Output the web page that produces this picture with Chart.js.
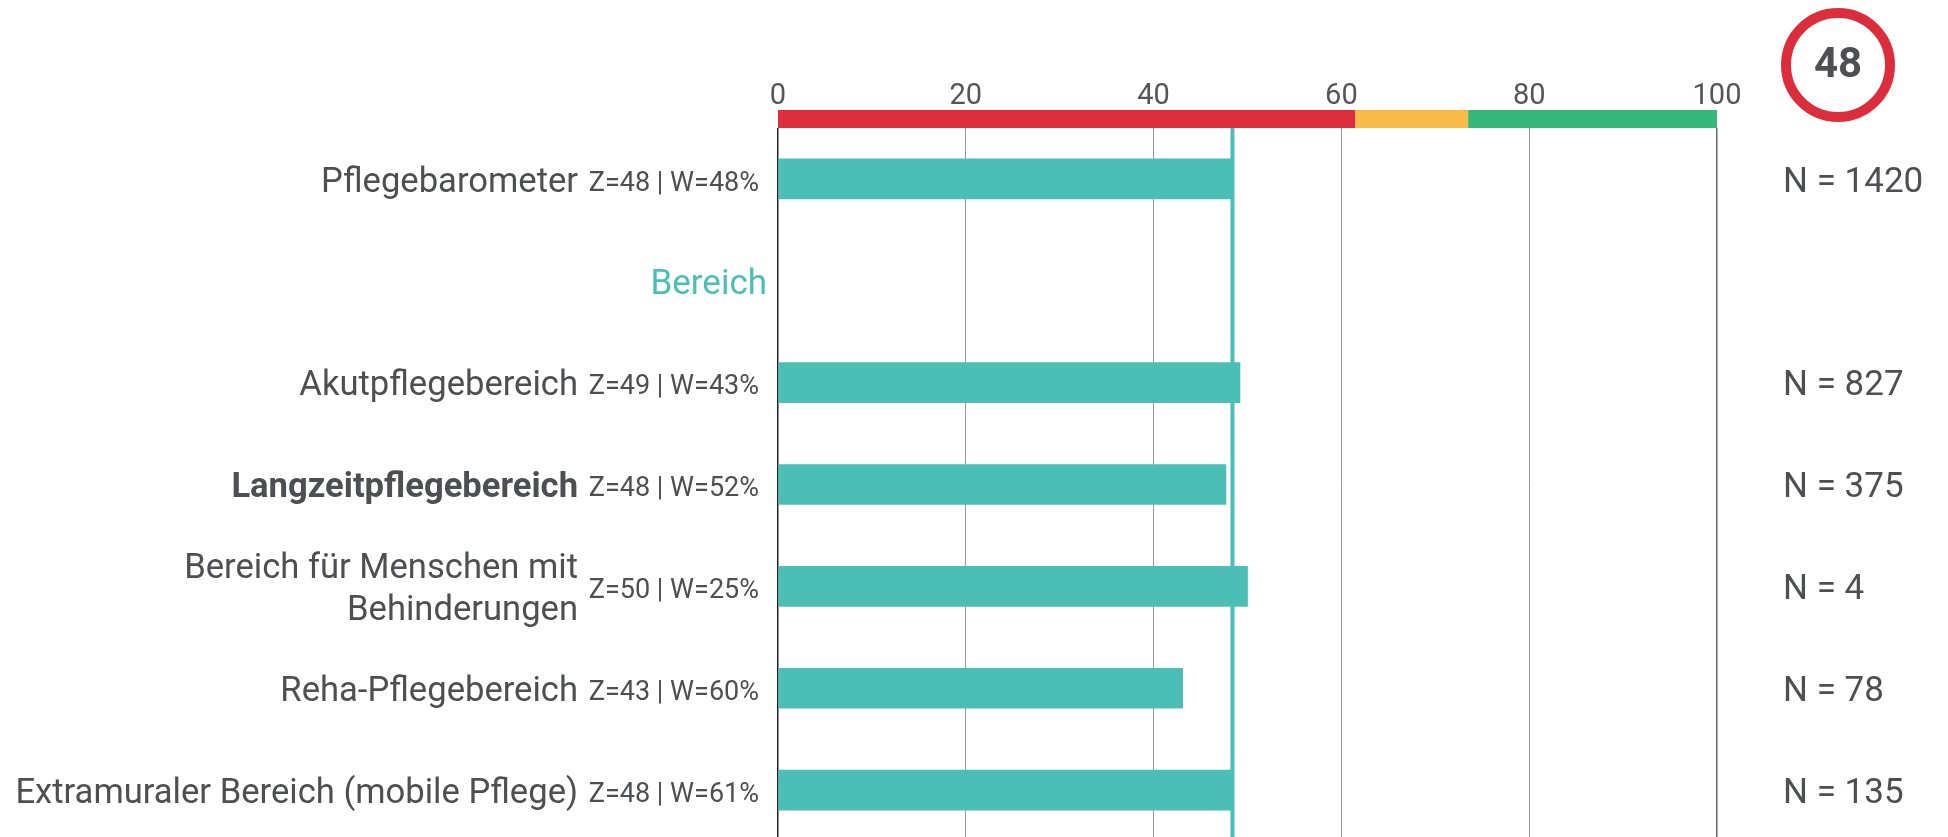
<!DOCTYPE html>
<html>
<head>
<meta charset="utf-8">
<script src="https://cdn.jsdelivr.net/npm/chart.js@4.4.1/dist/chart.umd.min.js"></script>
<style>
  html, body { margin: 0; padding: 0; background: #fff; overflow: hidden; }
  #wrap { width: 1948px; height: 841px; position: relative; }
</style>
</head>
<body>
<div id="wrap"><canvas id="myChart"></canvas></div>
<script>
// daten
const kategorien = [
    'Pflegebarometer',
    'Bereich',
    'Akutpflegebereich',
    'Langzeitpflegebereich',
    ['Bereich für Menschen mit', 'Behinderungen'],
    'Reha-Pflegebereich',
    'Extramuraler Bereich (mobile Pflege)'
];
const werte = [48.5, null, 49.2, 47.7, 50.0, 43.1, 48.3];
const zWerte = [48, null, 49, 48, 50, 43, 48];
const wWerte = [48, null, 43, 52, 25, 60, 61];
const nWerte = [1420, null, 827, 375, 4, 78, 135];
const fettIndex = 3;      // Langzeitpflegebereich fett
const gruppenIndex = 1;   // "Bereich" Zwischenueberschrift
const referenzWert = 48.4;
const gesamtWert = 48;
const skalaGrenzen = [0, 61.5, 73.5, 100];
const skalaFarben = ['#dc2d3c', '#f8bb46', '#35b77b'];
const xTicks = [0, 20, 40, 60, 80, 100];

const textFarbe = '#4d4f52';
const tuerkis = '#4bbfb5';

// Farbskala ueber der Achse + Referenzlinie
const skalaPlugin = {
    id: 'skala',
    afterDatasetsDraw(chart) {
        const { ctx, chartArea, scales: { x } } = chart;
        ctx.save();
        for (let i = 0; i < skalaFarben.length; i++) {
            const x0 = x.getPixelForValue(skalaGrenzen[i]);
            const x1 = x.getPixelForValue(skalaGrenzen[i + 1]);
            ctx.fillStyle = skalaFarben[i];
            ctx.fillRect(x0, chartArea.top - 18, x1 - x0, 18);
        }
        const xr = x.getPixelForValue(referenzWert);
        ctx.strokeStyle = tuerkis;
        ctx.lineWidth = 4;
        ctx.beginPath();
        ctx.moveTo(xr, chartArea.top);
        ctx.lineTo(xr, chartArea.bottom);
        ctx.stroke();
        ctx.restore();
    }
};

// Beschriftungen links und rechts, Kreis oben rechts
const textPlugin = {
    id: 'texte',
    afterDraw(chart) {
        const { ctx, scales: { y } } = chart;
        ctx.save();
        ctx.textBaseline = 'middle';
        kategorien.forEach((kat, i) => {
            const yp = y.getPixelForValue(i) + 4;
            if (i === gruppenIndex) {
                ctx.font = '35px Roboto';
                ctx.fillStyle = tuerkis;
                ctx.textAlign = 'right';
                ctx.fillText(kat, 767, yp);
                return;
            }
            ctx.fillStyle = textFarbe;
            ctx.textAlign = 'right';
            ctx.font = (i === fettIndex ? 'bold ' : '') + '34.6px Roboto';
            if (Array.isArray(kat)) {
                ctx.fillText(kat[0], 578, yp - 21);
                ctx.fillText(kat[1], 578, yp + 21);
            } else {
                ctx.fillText(kat, 578, yp);
            }
            ctx.font = '27px Roboto';
            ctx.fillText(`Z=${zWerte[i]} | W=${wWerte[i]}%`, 759, yp + 1);

            ctx.textAlign = 'left';
            ctx.font = '35px Roboto';
            ctx.fillText(`N = ${nWerte[i]}`, 1783, yp);
        });

        // Gesamtwert im Kreis
        ctx.beginPath();
        ctx.arc(1838, 65, 52, 0, Math.PI * 2);
        ctx.strokeStyle = '#dc2d3c';
        ctx.lineWidth = 10;
        ctx.stroke();
        ctx.fillStyle = textFarbe;
        ctx.textAlign = 'center';
        ctx.font = 'bold 42px Roboto';
        ctx.fillText(String(gesamtWert), 1838, 66);
        ctx.restore();
    }
};

const ctx = document.getElementById('myChart');
const chart = new Chart(ctx, {
    type: 'bar',
    data: {
        labels: kategorien,
        datasets: [{
            data: werte,
            backgroundColor: tuerkis,
            barThickness: 40
        }]
    },
    options: {
        indexAxis: 'y',
        responsive: true,
        maintainAspectRatio: false,
        animation: false,
        layout: { padding: { left: 778, right: 231, top: 0, bottom: 0 } },
        plugins: { legend: { display: false }, tooltip: { enabled: false } },
        scales: {
            x: {
                position: 'top',
                min: 0,
                max: 100,
                afterBuildTicks(scale) {
                    scale.ticks = xTicks.map(v => ({ value: v }));
                },
                afterFit(scale) { scale.height = 128; },
                ticks: {
                    font: { family: 'Roboto', size: 29 },
                    color: '#555',
                    padding: 14
                },
                grid: {
                    drawTicks: false,
                    color: c => c.tick && c.tick.value === 0 ? '#222' : (c.tick && c.tick.value === 100 ? '#666' : '#999'),
                    lineWidth: c => c.tick && (c.tick.value === 0 || c.tick.value === 100) ? 1.5 : 1
                },
                border: { display: false }
            },
            y: {
                display: false
            }
        }
    },
    plugins: [skalaPlugin, textPlugin]
});
</script>
</body>
</html>
